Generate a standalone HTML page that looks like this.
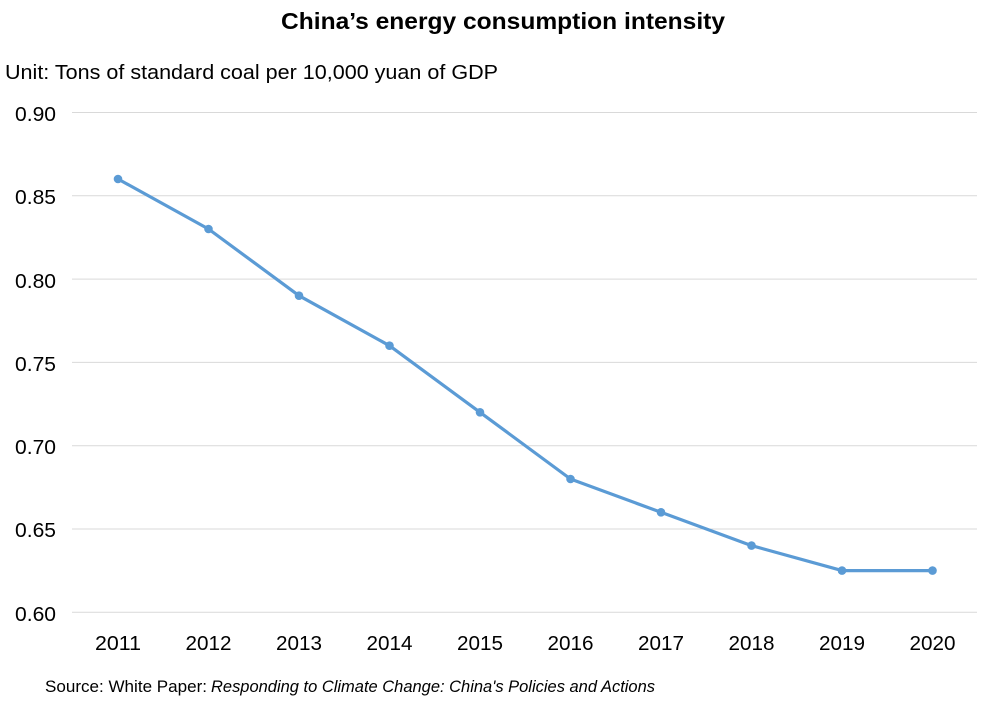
<!DOCTYPE html>
<html>
<head>
<meta charset="utf-8">
<style>
  html, body { margin: 0; padding: 0; background: #ffffff; }
  svg { display: block; }
  text { font-family: "Liberation Sans", "DejaVu Sans", sans-serif; fill: #000; }
</style>
</head>
<body>
<svg width="1002" height="701" viewBox="0 0 1002 701" xmlns="http://www.w3.org/2000/svg">
  <rect x="0" y="0" width="1002" height="701" fill="#ffffff"/>

  <!-- Title -->
  <text x="281" y="29" font-size="23" font-weight="bold" textLength="444" lengthAdjust="spacingAndGlyphs">China’s energy consumption intensity</text>

  <!-- Unit -->
  <text x="5" y="79" font-size="20" textLength="493" lengthAdjust="spacingAndGlyphs">Unit: Tons of standard coal per 10,000 yuan of GDP</text>

  <!-- Gridlines -->
  <g stroke="#d9d9d9" stroke-width="1">
    <line x1="72" y1="112.5" x2="977" y2="112.5"/>
    <line x1="72" y1="195.8" x2="977" y2="195.8"/>
    <line x1="72" y1="279.1" x2="977" y2="279.1"/>
    <line x1="72" y1="362.4" x2="977" y2="362.4"/>
    <line x1="72" y1="445.7" x2="977" y2="445.7"/>
    <line x1="72" y1="529.0" x2="977" y2="529.0"/>
    <line x1="72" y1="612.3" x2="977" y2="612.3"/>
  </g>

  <!-- Y labels -->
  <g font-size="20">
    <text x="15" y="121" textLength="41" lengthAdjust="spacingAndGlyphs">0.90</text>
    <text x="15" y="204" textLength="41" lengthAdjust="spacingAndGlyphs">0.85</text>
    <text x="15" y="288" textLength="41" lengthAdjust="spacingAndGlyphs">0.80</text>
    <text x="15" y="371" textLength="41" lengthAdjust="spacingAndGlyphs">0.75</text>
    <text x="15" y="454" textLength="41" lengthAdjust="spacingAndGlyphs">0.70</text>
    <text x="15" y="537" textLength="41" lengthAdjust="spacingAndGlyphs">0.65</text>
    <text x="15" y="621" textLength="41" lengthAdjust="spacingAndGlyphs">0.60</text>
  </g>

  <!-- X labels -->
  <g font-size="20">
    <text x="95" y="650" textLength="46" lengthAdjust="spacingAndGlyphs">2011</text>
    <text x="185.5" y="650" textLength="46" lengthAdjust="spacingAndGlyphs">2012</text>
    <text x="276" y="650" textLength="46" lengthAdjust="spacingAndGlyphs">2013</text>
    <text x="366.5" y="650" textLength="46" lengthAdjust="spacingAndGlyphs">2014</text>
    <text x="457" y="650" textLength="46" lengthAdjust="spacingAndGlyphs">2015</text>
    <text x="547.5" y="650" textLength="46" lengthAdjust="spacingAndGlyphs">2016</text>
    <text x="638" y="650" textLength="46" lengthAdjust="spacingAndGlyphs">2017</text>
    <text x="728.5" y="650" textLength="46" lengthAdjust="spacingAndGlyphs">2018</text>
    <text x="819" y="650" textLength="46" lengthAdjust="spacingAndGlyphs">2019</text>
    <text x="909.5" y="650" textLength="46" lengthAdjust="spacingAndGlyphs">2020</text>
  </g>

  <!-- Series -->
  <polyline fill="none" stroke="#5b9bd5" stroke-width="3.2" stroke-linejoin="round" stroke-linecap="round"
    points="118,179 208.5,229 299,295.7 389.5,345.7 480,412.3 570.5,479 661,512.3 751.5,545.6 842,570.6 932.5,570.6"/>
  <g fill="#5b9bd5">
    <circle cx="118" cy="179" r="4.3"/>
    <circle cx="208.5" cy="229" r="4.3"/>
    <circle cx="299" cy="295.7" r="4.3"/>
    <circle cx="389.5" cy="345.7" r="4.3"/>
    <circle cx="480" cy="412.3" r="4.3"/>
    <circle cx="570.5" cy="479" r="4.3"/>
    <circle cx="661" cy="512.3" r="4.3"/>
    <circle cx="751.5" cy="545.6" r="4.3"/>
    <circle cx="842" cy="570.6" r="4.3"/>
    <circle cx="932.5" cy="570.6" r="4.3"/>
  </g>

  <!-- Source -->
  <text x="45" y="692" font-size="16.5" textLength="162" lengthAdjust="spacingAndGlyphs">Source: White Paper:</text>
  <text x="211" y="692" font-size="16.5" font-style="italic" textLength="444" lengthAdjust="spacingAndGlyphs">Responding to Climate Change: China's Policies and Actions</text>
</svg>
</body>
</html>
